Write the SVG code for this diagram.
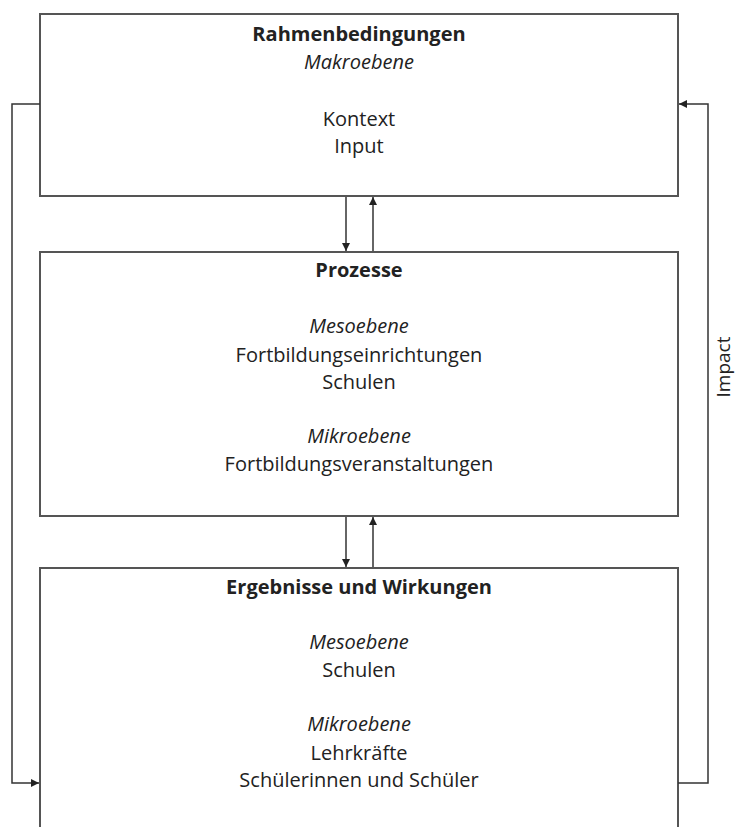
<svg xmlns="http://www.w3.org/2000/svg" width="737" height="827" viewBox="0 0 737 827">
<style>
.box{fill:#fff;stroke:#555;stroke-width:2}
.t{font-family:"Open Sans","Liberation Sans",sans-serif;font-size:20px;fill:#222;text-anchor:middle}
.b{font-weight:bold}
.i{font-style:italic}
.c{fill:none;stroke:#333;stroke-width:1.5}
</style>
<defs>
<marker id="ah" viewBox="0 0 10 10" refX="10" refY="5" markerWidth="8" markerHeight="8" markerUnits="userSpaceOnUse" orient="auto">
<path d="M0,0 L10,5 L0,10 Z" fill="#222"/>
</marker>
</defs>
<rect width="737" height="827" fill="#fff"/>
<g id="n1">
<rect class="box" x="40" y="14" width="638" height="182"/>
<text class="t b" x="359" y="41">Rahmenbedingungen</text>
<text class="t i" x="359" y="69">Makroebene</text>
<text class="t" x="359" y="126">Kontext</text>
<text class="t" x="359" y="153">Input</text>
</g>
<g id="n2">
<rect class="box" x="40" y="252" width="638" height="264"/>
<text class="t b" x="359" y="277">Prozesse</text>
<text class="t i" x="359" y="333">Mesoebene</text>
<text class="t" x="359" y="362">Fortbildungseinrichtungen</text>
<text class="t" x="359" y="389">Schulen</text>
<text class="t i" x="359" y="443">Mikroebene</text>
<text class="t" x="359" y="471">Fortbildungsveranstaltungen</text>
</g>
<g id="n3">
<path class="box" d="M40,830 L40,568 L678,568 L678,830"/>
<text class="t b" x="359" y="594">Ergebnisse und Wirkungen</text>
<text class="t i" x="359" y="649">Mesoebene</text>
<text class="t" x="359" y="677">Schulen</text>
<text class="t i" x="359" y="731">Mikroebene</text>
<text class="t" x="359" y="760">Lehrkräfte</text>
<text class="t" x="359" y="787">Schülerinnen und Schüler</text>
</g>
<g id="connectors">
<line class="c" x1="346" y1="197" x2="346" y2="251" marker-end="url(#ah)"/>
<line class="c" x1="373" y1="251" x2="373" y2="197" marker-end="url(#ah)"/>
<line class="c" x1="346" y1="517" x2="346" y2="567" marker-end="url(#ah)"/>
<line class="c" x1="373" y1="567" x2="373" y2="517" marker-end="url(#ah)"/>
<polyline class="c" points="40,104 12,104 12,783 39,783" marker-end="url(#ah)"/>
<polyline class="c" points="678,783 708,783 708,104 679,104" marker-end="url(#ah)"/>
<text class="t" style="font-size:19px" transform="translate(730,367) rotate(-90)">Impact</text>
</g>
</svg>
